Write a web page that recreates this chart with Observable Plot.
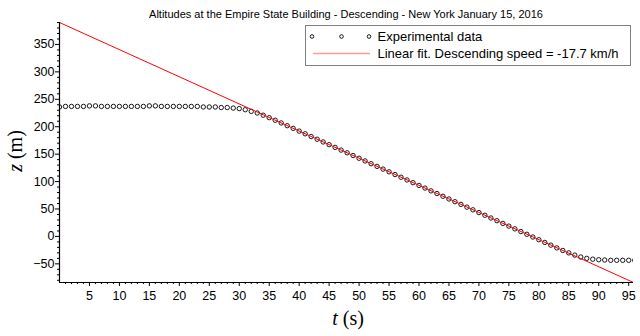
<!DOCTYPE html>
<html>
<head>
<meta charset="utf-8">
<script src="https://cdn.jsdelivr.net/npm/d3@7"></script>
<script src="https://cdn.jsdelivr.net/npm/@observablehq/plot@0.6"></script>
<style>
  html, body { margin: 0; padding: 0; background: #fff; }
  #chart { position: relative; width: 640px; height: 336px; }
  #chart svg { font-family: "Liberation Sans", Arial, sans-serif; }
</style>
</head>
<body>
<div id="chart"></div>
<script>
// ---- data ----
const timeS = [0,1,2,3,4,5,6,7,8,9,10,11,12,13,14,15,16,17,18,19,20,21,22,23,24,25,26,27,28,29,30,31,32,33,34,35,36,37,38,39,40,41,42,43,44,45,46,47,48,49,50,51,52,53,54,55,56,57,58,59,60,61,62,63,64,65,66,67,68,69,70,71,72,73,74,75,76,77,78,79,80,81,82,83,84,85,86,87,88,89,90,91,92,93,94,95,96];
const altitudeM = [236,237,237,237,237,238,238,237,237,237,237,237,237,237,237,238,238,237,237,237,237,237,237,237,236,236,236,235,235,234,233,231,228,225,221,216.5,211.8,206.9,201.9,197,192,187.1,182.1,177.2,172.2,167.3,162.3,157.4,152.4,147.5,142.5,137.6,132.6,127.7,122.7,117.8,112.8,107.9,102.9,98,93,88.1,83.1,78.2,73.2,68.3,63.3,58.4,53.4,48.5,43.5,38.6,33.6,28.7,23.7,18.8,13.8,8.9,3.9,-1.1,-6,-11,-15.9,-20.9,-25.6,-30,-34,-37.5,-40,-41.5,-42.5,-43,-43.5,-43.5,-43.5,-43.5,-43.5];
const fitT = [0, 95.8];
const fitZ = [390, -84];
const xTicks = [5,10,15,20,25,30,35,40,45,50,55,60,65,70,75,80,85,90,95];
const yTicks = [-50,0,50,100,150,200,250,300,350];
const xDomain = [0, 95.8];
const yDomain = [-84, 390];
const titleText = "Altitudes at the Empire State Building - Descending - New York January 15, 2016";
const legendLabels = ["Experimental data", "Linear fit. Descending speed = -17.7 km/h"];

const points = timeS.map((t, i) => ({t, z: altitudeM[i]}));
const fit = fitT.map((t, i) => ({t, z: fitZ[i]}));
const xMinor = d3.range(1, 96).filter(v => v % 5 !== 0);
const yMinor = d3.range(-80, 391, 10).filter(v => v % 50 !== 0);

const chart = Plot.plot({
  width: 640,
  height: 336,
  marginLeft: 59,
  marginRight: 7,
  marginTop: 22,
  marginBottom: 54,
  x: {domain: xDomain},
  y: {domain: yDomain},
  marks: [
    Plot.axisY(yMinor, {tickSize: 2, text: null, label: null, stroke: "#000"}),
    Plot.axisY(yTicks, {tickSize: 4, tickPadding: 1, fontSize: 12.5, label: null, stroke: "#000", fill: "#000"}),
    Plot.axisX(xMinor, {tickSize: 2, text: null, label: null, stroke: "#000"}),
    Plot.axisX(xTicks, {tickSize: 4, tickPadding: 5, fontSize: 12.5, label: null, stroke: "#000", fill: "#000"}),
    Plot.dot(points, {x: "t", y: "z", r: 2.2, stroke: "#000", strokeWidth: 0.9, fill: "none", clip: true}),
    Plot.line(fit, {x: "t", y: "z", stroke: "#ff0000", strokeWidth: 1, clip: true}),
    Plot.ruleX([xDomain[0]], {stroke: "#000", strokeWidth: 1.2}),
    Plot.ruleY([yDomain[0]], {stroke: "#000", strokeWidth: 1.2})
  ]
});
document.getElementById("chart").appendChild(chart);

const svg = d3.select(chart);
// title
svg.append("text")
  .attr("x", 346).attr("y", 18)
  .attr("text-anchor", "middle")
  .attr("font-size", 11)
  .attr("fill", "#000")
  .text(titleText);

// y-axis label: z (m)
const yl = svg.append("text")
  .attr("transform", "translate(22,151) rotate(-90)")
  .attr("text-anchor", "middle")
  .attr("font-family", "'Liberation Serif', 'Times New Roman', serif")
  .attr("font-size", 20)
  .attr("fill", "#000");
yl.append("tspan").attr("font-style", "italic").text("z");
yl.append("tspan").text(" (m)");

// x-axis label: t (s)
const xl = svg.append("text")
  .attr("x", 348).attr("y", 325)
  .attr("text-anchor", "middle")
  .attr("font-family", "'Liberation Serif', 'Times New Roman', serif")
  .attr("font-size", 20)
  .attr("fill", "#000");
xl.append("tspan").attr("font-style", "italic").text("t");
xl.append("tspan").text(" (s)");

// legend
const lg = svg.append("g").attr("text-anchor", "start");
lg.append("rect")
  .attr("x", 305.5).attr("y", 25.5).attr("width", 325).attr("height", 40)
  .attr("fill", "#fff").attr("stroke", "#808080").attr("stroke-width", 1);
[312, 341.5, 369].forEach(cx => {
  lg.append("circle").attr("cx", cx).attr("cy", 36.5).attr("r", 1.8)
    .attr("fill", "none").attr("stroke", "#000").attr("stroke-width", 0.9);
});
lg.append("line").attr("x1", 313).attr("x2", 370).attr("y1", 53.5).attr("y2", 53.5)
  .attr("stroke", "#ff9a9a").attr("stroke-width", 1.5);
lg.append("text").attr("x", 377.5).attr("y", 41).attr("font-size", 13).attr("text-anchor", "start").attr("fill", "#000").text(legendLabels[0]);
lg.append("text").attr("x", 377.5).attr("y", 58).attr("font-size", 13).attr("text-anchor", "start").attr("fill", "#000").text(legendLabels[1]);
</script>
</body>
</html>
